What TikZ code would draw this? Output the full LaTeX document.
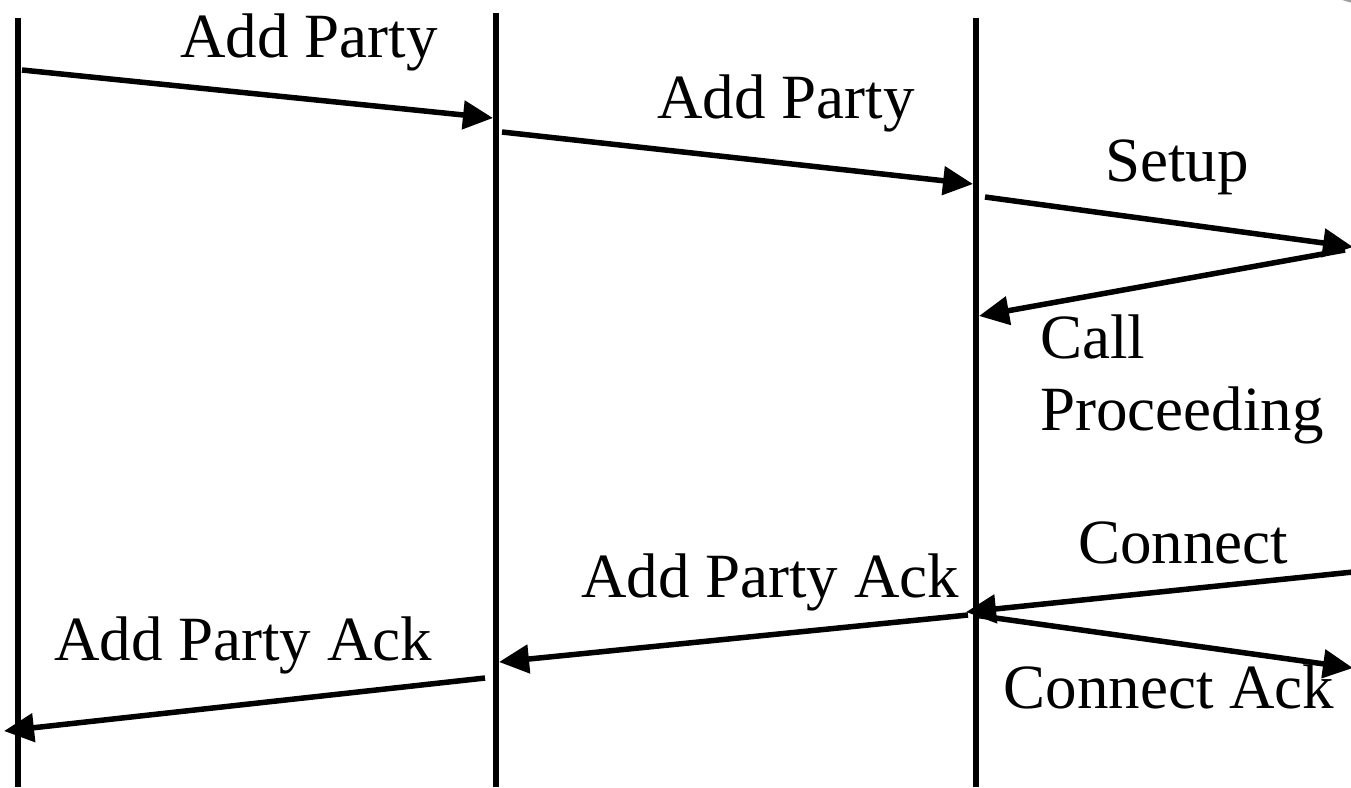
\documentclass[tikz,border=0pt]{standalone}
\usepackage{fontspec}
\setmainfont{Liberation Serif}
\usetikzlibrary{arrows.meta}

\begin{document}
\begin{tikzpicture}[x=1pt, y=-1pt,
				   every node/.style={font=\fontsize{63}{70}\selectfont, inner sep=0pt, anchor=base},
				   life/.style={line width=5.5pt},
				   msg/.style={line width=5.5pt, -{Triangle[length=30pt,width=28pt]}}]
\clip (0,0) rectangle (1351,787);
\fill[gray!75] (1410,-58) ellipse (130 and 68);
% lifelines
\draw[life] (18,18) coordinate (l1t) -- (18,787) coordinate (l1b);
\draw[life] (496,13) coordinate (l2t) -- (496,787) coordinate (l2b);
\draw[life] (976,18) coordinate (l3t) -- (976,787) coordinate (l3b);
% end points of the messages
\coordinate (a1) at (22,70);    \coordinate (a2) at (493,118);
\coordinate (b1) at (502,132);  \coordinate (b2) at (973,184);
\coordinate (c1) at (985,197);  \coordinate (c2) at (1353,247);
\coordinate (d1) at (1345,250); \coordinate (d2) at (979,316);
\coordinate (e1) at (1353,572); \coordinate (e2) at (966,612);
\coordinate (f1) at (968,615);  \coordinate (f2) at (499,662);
\coordinate (g1) at (485,678);  \coordinate (g2) at (4,731);
\coordinate (h1) at (974,615);  \coordinate (h2) at (1353,668);
% labels
\node (addp1) at (309,57) {Add Party};
\node (addp2) at (786,118) {Add Party};
\node (setup) at (1177,181) {Setup};
\node[anchor=base west] (call) at (1040,358) {Call};
\node[anchor=base west] (proc) at (1040,430) {Proceeding};
\node (conn) at (1183,563) {Connect};
\node (ack2) at (770,597) {Add Party Ack};
\node (ack1) at (243,660) {Add Party Ack};
\node (connack) at (1169,708) {Connect Ack};
% messages
\draw[msg] (a1) -- (a2);
\draw[msg] (b1) -- (b2);
\draw[msg] (c1) -- (c2);
\draw[msg] (d1) -- (d2);
\draw[msg] (e1) -- (e2);
\draw[msg] (f1) -- (f2);
\draw[msg] (g1) -- (g2);
\draw[msg] (h1) -- (h2);
\end{tikzpicture}
\end{document}
